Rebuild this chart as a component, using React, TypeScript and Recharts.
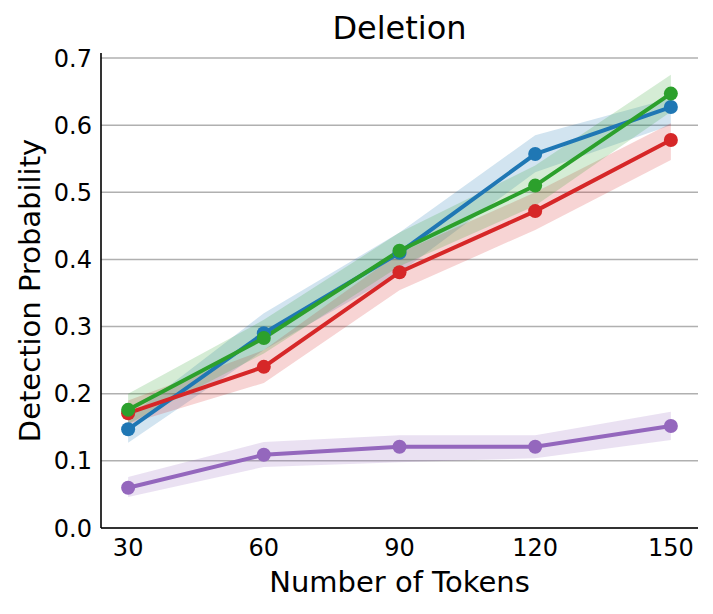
import React from 'react';
import { ComposedChart, Line, Area, XAxis, YAxis, CartesianGrid } from 'recharts';

const tokens = [30, 60, 90, 120, 150];
const yTicks = [0, 0.1, 0.2, 0.3, 0.4, 0.5, 0.6, 0.7];

const blueMean = [0.147, 0.29, 0.41, 0.557, 0.627];
const blueLo = [0.127, 0.265, 0.38, 0.53, 0.6];
const blueHi = [0.165, 0.32, 0.44, 0.585, 0.64];

const redMean = [0.171, 0.24, 0.381, 0.472, 0.578];
const redLo = [0.155, 0.216, 0.354, 0.444, 0.548];
const redHi = [0.19, 0.265, 0.41, 0.5, 0.603];

const greenMean = [0.176, 0.283, 0.413, 0.51, 0.647];
const greenLo = [0.155, 0.26, 0.39, 0.48, 0.62];
const greenHi = [0.2, 0.31, 0.44, 0.54, 0.675];

const purpleMean = [0.06, 0.109, 0.121, 0.121, 0.152];
const purpleLo = [0.046, 0.091, 0.098, 0.104, 0.131];
const purpleHi = [0.076, 0.128, 0.138, 0.138, 0.173];

const series = [
  { key: 'blue', color: '#1f77b4', mean: blueMean, lo: blueLo, hi: blueHi },
  { key: 'red', color: '#d62728', mean: redMean, lo: redLo, hi: redHi },
  { key: 'green', color: '#2ca02c', mean: greenMean, lo: greenLo, hi: greenHi },
  { key: 'purple', color: '#9467bd', mean: purpleMean, lo: purpleLo, hi: purpleHi },
];

const data = tokens.map((t, i) => {
  const row: any = { x: t };
  series.forEach((s) => {
    row[s.key] = s.mean[i];
    row[s.key + 'Band'] = [s.lo[i], s.hi[i]];
  });
  return row;
});

const FONT = 'DejaVu Sans, sans-serif';

export default function App() {
  return (
    <div style={{ position: 'absolute', left: 0, top: 0, width: 713, height: 614, background: '#fff' }}>
      <div
        style={{
          position: 'absolute',
          left: 101,
          width: 597,
          top: 0,
          textAlign: 'center',
          fontFamily: FONT,
          fontSize: 32,
          lineHeight: '32px',
          paddingTop: 12,
          color: '#000',
        }}
      >
        Deletion
      </div>
      <ComposedChart
        width={713}
        height={614}
        data={data}
        margin={{ top: 53, right: 15, bottom: 0, left: 0 }}
      >
        <CartesianGrid
          horizontal={true}
          vertical={false}
          horizontalValues={yTicks}
          stroke="#b0b0b0"
          strokeWidth={1.5}
        />
        <XAxis
          dataKey="x"
          type="number"
          domain={[24, 156]}
          ticks={tokens}
          height={86}
          tickLine={false}
          tickSize={0}
          tickMargin={11}
          axisLine={{ stroke: '#000', strokeWidth: 1.6 }}
          tick={{ fontFamily: FONT, fontSize: 24, fill: '#000' }}
          label={{
            value: 'Number of Tokens',
            position: 'insideBottom',
            offset: 22,
            style: { fontFamily: FONT, fontSize: 29, fill: '#000' },
          }}
        />
        <YAxis
          type="number"
          domain={[0, 0.7075]}
          ticks={yTicks}
          width={101}
          tickLine={false}
          tickSize={0}
          tickMargin={9}
          allowDataOverflow={true}
          axisLine={{ stroke: '#000', strokeWidth: 1.6 }}
          tick={{ fontFamily: FONT, fontSize: 24, fill: '#000' }}
          tickFormatter={(v: number) => v.toFixed(1)}
          label={{
            value: 'Detection Probability',
            angle: -90,
            position: 'insideLeft',
            offset: 30,
            style: { fontFamily: FONT, fontSize: 29, fill: '#000', textAnchor: 'middle' },
          }}
        />
        {series.map((s) => (
          <Area
            key={s.key + 'Band'}
            dataKey={s.key + 'Band'}
            type="linear"
            stroke="none"
            fill={s.color}
            fillOpacity={0.2}
            isAnimationActive={false}
            activeDot={false}
          />
        ))}
        {series.map((s) => (
          <Line
            key={s.key}
            dataKey={s.key}
            type="linear"
            stroke={s.color}
            strokeWidth={4}
            dot={{ r: 7, fill: s.color, stroke: s.color, strokeWidth: 0 }}
            activeDot={false}
            isAnimationActive={false}
          />
        ))}
      </ComposedChart>
    </div>
  );
}
